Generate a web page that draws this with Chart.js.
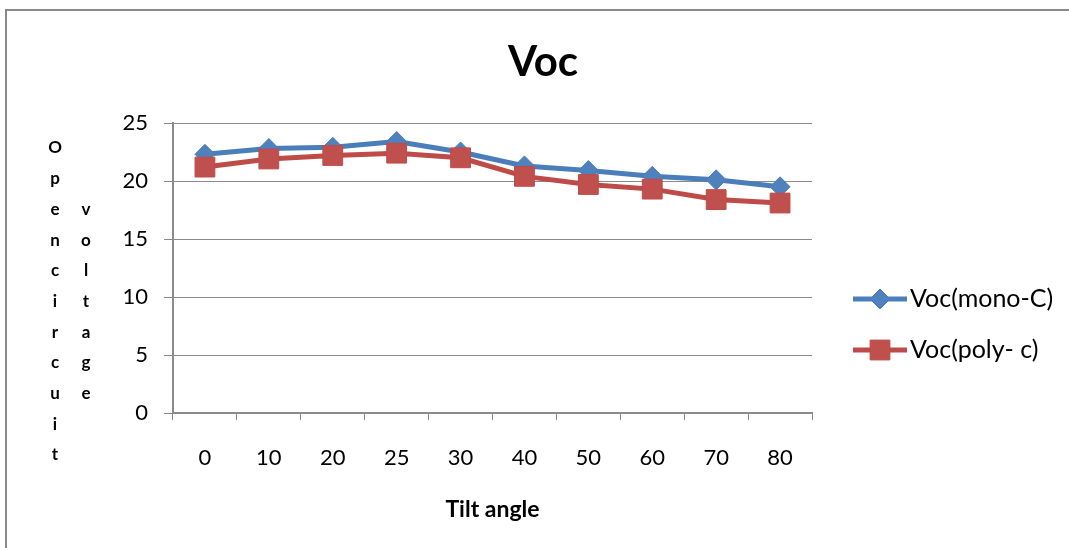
<!DOCTYPE html>
<html>
<head>
<meta charset="utf-8">
<title>Voc</title>
<script src="https://cdn.jsdelivr.net/npm/chart.js@4/dist/chart.umd.min.js"></script>
<style>
  html, body { margin: 0; padding: 0; background: #fff; overflow: hidden; }
  #frame {
    position: absolute; left: 5px; top: 9px; width: 1200px; height: 700px;
    border-left: 2px solid #8a8a8a; border-top: 2px solid #8a8a8a;
  }
  #chart { position: absolute; left: 0; top: 0; }
</style>
</head>
<body>
<div id="frame"></div>
<canvas id="chart" width="1069" height="548"></canvas>
<script>
const chartTitle = 'Voc';
const tiltAngles = ['0', '10', '20', '25', '30', '40', '50', '60', '70', '80'];
const vocMono = [22.3, 22.8, 22.9, 23.4, 22.5, 21.3, 20.9, 20.4, 20.1, 19.5];
const vocPoly = [21.2, 21.9, 22.2, 22.4, 22.0, 20.4, 19.7, 19.3, 18.4, 18.1];
const yTicks = [0, 5, 10, 15, 20, 25];
const yTitleColumns = ['Open circuit', 'voltage'];

const FONT = 'Lato, "Liberation Sans", sans-serif';
const GRID = '#8a8a8a';

// main title, centred over the whole chart rather than the plot
const topTitle = {
  id: 'topTitle',
  afterDraw(chart) {
    const { ctx } = chart;
    ctx.save();
    ctx.font = 'bold 42px ' + FONT;
    ctx.fillStyle = '#000';
    ctx.textAlign = 'center';
    ctx.textBaseline = 'alphabetic';
    ctx.fillText(chartTitle, 543, 76);
    ctx.restore();
  }
};

// stacked letters for the y axis title, one column per word group
const stackedTitle = {
  id: 'stackedTitle',
  afterDraw(chart) {
    const { ctx, chartArea } = chart;
    const step = 30.7;
    const rows = yTitleColumns.map(s => s.replace(/ /g, '').split(''));
    const maxRows = Math.max(...rows.map(r => r.length));
    const top = chartArea.top + 25;
    ctx.save();
    ctx.font = 'bold 17px ' + FONT;
    ctx.fillStyle = '#000';
    ctx.textAlign = 'center';
    ctx.textBaseline = 'middle';
    rows.forEach((letters, c) => {
      const start = top + (maxRows - letters.length) / 2 * step;
      letters.forEach((ch, i) => ctx.fillText(ch, 55 + c * 31, start + i * step));
    });
    ctx.restore();
  }
};

// legend on the right: line with marker, then label
const sideLegend = {
  id: 'sideLegend',
  afterDraw(chart) {
    const { ctx } = chart;
    const x0 = 853, x1 = 907, rowY = [299, 350];
    ctx.save();
    chart.data.datasets.forEach((ds, i) => {
      const y = rowY[i];
      ctx.strokeStyle = ds.borderColor;
      ctx.lineWidth = ds.borderWidth;
      ctx.beginPath();
      ctx.moveTo(x0, y);
      ctx.lineTo(x1, y);
      ctx.stroke();
      ctx.fillStyle = ds.pointBackgroundColor;
      ctx.strokeStyle = ds.pointBorderColor;
      ctx.lineWidth = 1;
      Chart.helpers.drawPoint(ctx, {
        pointStyle: ds.pointStyle,
        radius: ds.pointRadius,
        borderWidth: 1
      }, (x0 + x1) / 2, y);
      ctx.fillStyle = '#000';
      ctx.font = '25px ' + FONT;
      ctx.textAlign = 'left';
      ctx.textBaseline = 'middle';
      ctx.fillText(ds.label, x1 + 3, y);
    });
    ctx.restore();
  }
};

new Chart(document.getElementById('chart'), {
  type: 'line',
  data: {
    labels: tiltAngles,
    datasets: [
      {
        label: 'Voc(mono-C)',
        data: vocMono,
        borderColor: '#4A7EBB',
        borderWidth: 5,
        pointStyle: 'rectRot',
        pointRadius: 10,
        pointBackgroundColor: '#4F81BD',
        pointBorderColor: '#4A7EBB',
        pointBorderWidth: 1,
        tension: 0,
        order: 1
      },
      {
        label: 'Voc(poly- c)',
        data: vocPoly,
        borderColor: '#BE4B48',
        borderWidth: 5,
        pointStyle: 'rect',
        pointRadius: 14,
        pointBackgroundColor: '#C0504D',
        pointBorderColor: '#BE4B48',
        pointBorderWidth: 1,
        tension: 0,
        order: 0
      }
    ]
  },
  options: {
    responsive: false,
    animation: false,
    layout: { padding: { left: 0, right: 257, top: 123, bottom: 0 } },
    plugins: {
      legend: { display: false },
      tooltip: { enabled: false },
      title: { display: false }
    },
    scales: {
      x: {
        offset: true,
        grid: { display: true, drawOnChartArea: false, offset: true, tickLength: 7, color: GRID, lineWidth: 1 },
        border: { color: GRID, width: 2 },
        ticks: { color: '#000', font: { family: FONT, size: 22 }, padding: 25, maxRotation: 0 },
        title: {
          display: true,
          text: 'Tilt angle',
          color: '#000',
          font: { family: FONT, size: 23, weight: 'bold' },
          padding: { top: 0, bottom: 25 }
        },
        afterFit(scale) { scale.height = 135; }
      },
      y: {
        min: 0,
        max: 25,
        afterBuildTicks(scale) { scale.ticks = yTicks.map(v => ({ value: v })); },
        grid: { color: GRID, lineWidth: 1, tickLength: 9 },
        border: { color: GRID, width: 2 },
        ticks: { color: '#000', font: { family: FONT, size: 22 }, padding: 16 },
        afterFit(scale) { scale.width = 173; }
      }
    }
  },
  plugins: [topTitle, stackedTitle, sideLegend]
});
</script>
</body>
</html>
